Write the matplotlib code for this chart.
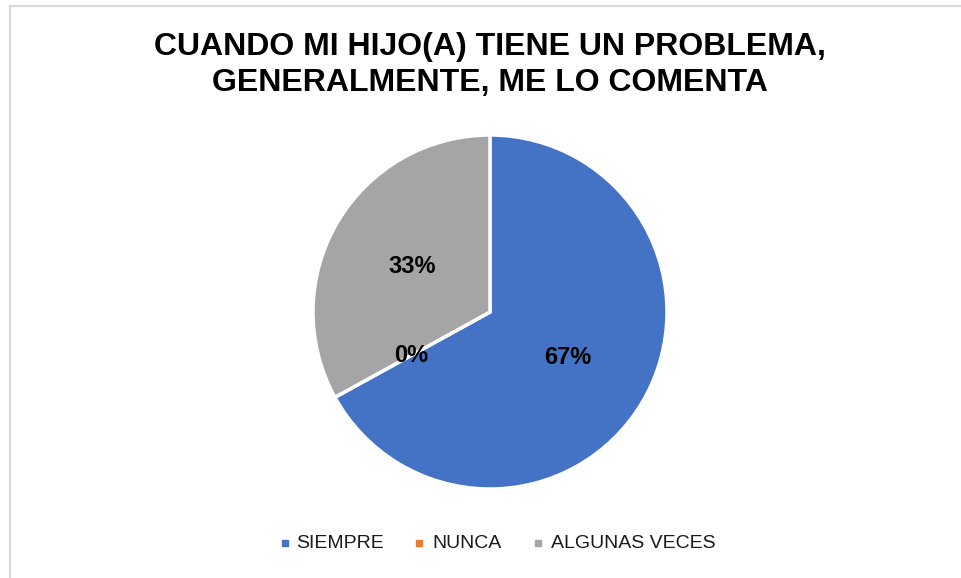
import matplotlib
matplotlib.use("Agg")
import matplotlib.pyplot as plt
from matplotlib.lines import Line2D

categories = ["SIEMPRE", "NUNCA", "ALGUNAS VECES"]
values = [67, 0, 33]
colors = ["#4472C4", "#ED7D31", "#A5A5A5"]
title = "CUANDO MI HIJO(A) TIENE UN PROBLEMA,\nGENERALMENTE, ME LO COMENTA"

W, H = 961, 578
fig = plt.figure(figsize=(W / 100, H / 100), dpi=100)
fig.patch.set_facecolor("white")

# light frame (left and top edges visible)
fig.add_artist(Line2D([10 / W, 10 / W], [0, 1 - 6 / H], color="#D9D9D9", lw=1.5, transform=fig.transFigure))
fig.add_artist(Line2D([10 / W, 1], [1 - 6 / H, 1 - 6 / H], color="#D9D9D9", lw=1.5, transform=fig.transFigure))

cx, cy, r = 490, 312, 177
ax = fig.add_axes([(cx - r) / W, (H - cy - r) / H, 2 * r / W, 2 * r / H])
wedges, texts, autotexts = ax.pie(
    values, colors=colors, startangle=90, counterclock=False,
    autopct=lambda p: f"{p:.0f}%", pctdistance=0.51,
    wedgeprops=dict(edgecolor="white", linewidth=2.5),
    textprops=dict(fontsize=17, fontweight="bold", color="black", family="Liberation Sans"),
)
ax.set_xlim(-1, 1)
ax.set_ylim(-1, 1)
ax.set_aspect("equal")
ax.axis("off")

fig.text(cx / W, 1 - 65 / H, title, ha="center", va="center", fontsize=23,
         fontweight="bold", family="Liberation Sans", linespacing=1.27)

# legend (manual placement to match reference layout)
marker_x = [285, 419, 538]
text_x = [296, 432, 551]
ly = 1 - 543 / H
for mx, tx, c, lab in zip(marker_x, text_x, colors, categories):
    fig.add_artist(Line2D([mx / W], [ly], marker="s", markersize=5, linestyle="",
                          color=c, transform=fig.transFigure))
    fig.text(tx / W, ly, lab, ha="left", va="center", fontsize=14,
             family="Liberation Sans", color="#1a1a1a")

fig.savefig("out.png", dpi=100)
